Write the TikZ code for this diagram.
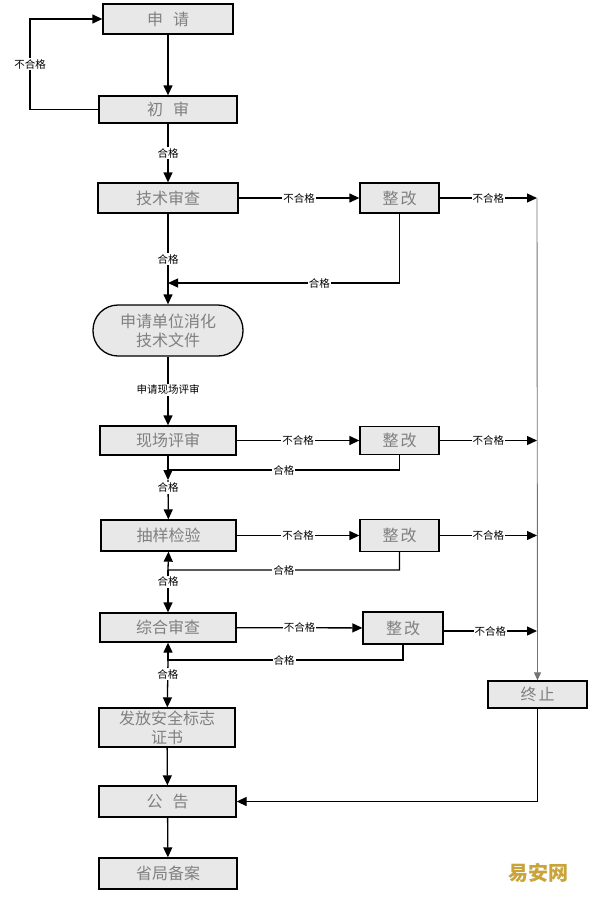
\documentclass[tikz,border=0pt]{standalone}
\usepackage{fontspec}
\setmainfont{Noto Sans CJK SC}
\usetikzlibrary{arrows.meta}
\definecolor{boxfill}{HTML}{E8E8E8}
\definecolor{boxtext}{HTML}{808080}
\definecolor{wmgold}{HTML}{C9A43A}
\begin{document}
\begin{tikzpicture}[x=1pt,y=-1pt,
  box/.style={draw=black,line width=1.3pt,fill=boxfill,text=boxtext,
    font=\fontsize{16}{19}\selectfont,inner sep=0pt,align=center},
  lab/.style={fill=white,inner sep=1pt,text=black,font=\fontsize{10.5}{12}\selectfont},
  conn/.style={line width=1.3pt,-{Triangle[length=10pt,width=9pt]}},
  plain/.style={line width=1.3pt},
  side/.style={line width=0.9pt,draw=black!55}]
\useasboundingbox (0,0) rectangle (590,906);
\fill[white] (0,0) rectangle (590,906);
% boxes
\node[box,minimum width=130pt,minimum height=30pt] (sq) at (168,19) {申\hspace{10pt}请};
\node[box,minimum width=138pt,minimum height=27pt] (cs) at (168,109.5) {初\hspace{10pt}审};
\node[box,minimum width=140pt,minimum height=30pt] (js) at (168,198) {技术审查};
\node[box,minimum width=79pt,minimum height=30pt] (zg1) at (399.5,198) {整\hspace{2pt}改};
\node[box,minimum width=150pt,minimum height=51pt,rounded corners=25pt] (xh) at (168,330.5) {申请单位消化\\技术文件};
\node[box,minimum width=136pt,minimum height=29pt] (xc) at (168,440.5) {现场评审};
\node[box,minimum width=79pt,minimum height=28pt] (zg2) at (399.5,440.5) {整\hspace{2pt}改};
\node[box,minimum width=135pt,minimum height=31pt] (cy) at (168.5,535.5) {抽样检验};
\node[box,minimum width=79pt,minimum height=32pt] (zg3) at (399.5,535.5) {整\hspace{2pt}改};
\node[box,minimum width=136pt,minimum height=29pt] (zh) at (168,627.5) {综合审查};
\node[box,minimum width=80pt,minimum height=32pt] (zg4) at (403,628) {整\hspace{2pt}改};
\node[box,minimum width=136pt,minimum height=39pt] (ff) at (167,727.5) {发放安全标志\\证书};
\node[box,minimum width=99pt,minimum height=27pt] (zz) at (537.5,694.5) {终\hspace{2pt}止};
\node[box,minimum width=137pt,minimum height=31pt] (gg) at (167.5,801.5) {公\hspace{10pt}告};
\node[box,minimum width=138pt,minimum height=31pt] (sj) at (168,873.5) {省局备案};
\node[text=wmgold,font=\bfseries\fontsize{20}{22}\selectfont] (wm) at (538,873) {易安网};
% coordinates
\coordinate (l1) at (30,109.5);
\coordinate (l2) at (30,19);
\coordinate (r1) at (537,198);
\coordinate (r2) at (537,440.5);
\coordinate (r3) at (537,535.5);
\coordinate (r4) at (537,631);
\coordinate (j1) at (168,283);
\coordinate (j2) at (168,470);
\coordinate (a2) at (168,480);
\coordinate (j3) at (168,570);
\coordinate (j4) at (168,660);
% connectors
\draw[conn] (sq) -- (cs);
\draw[conn] (cs.west) -- (l1) -- node[lab]{不合格} (l2) -- (sq.west);
\draw[conn] (cs) -- node[lab]{合格} (js);
\draw[conn] (js) -- node[lab]{不合格} (zg1);
\draw[conn] (zg1) -- node[lab]{不合格} (r1);
\draw[conn] (js) -- node[lab]{合格} (xh);
\draw[conn] (zg1.south) |- node[lab,pos=0.673]{合格} (j1);
\draw[conn] (xh) -- node[lab,pos=0.48]{申请现场评审} (xc);
% stage 2
\draw[conn] (xc) -- node[lab]{不合格} (zg2);
\draw[conn] (zg2) -- node[lab]{不合格} (r2);
\draw[plain] (zg2.south) |- node[lab,pos=0.75]{合格} (j2);
\draw[conn] (xc) -- (a2);
\draw[conn] (a2) -- node[lab,pos=0.2]{合格} (cy);
% stage 3
\draw[conn] (cy) -- node[lab]{不合格} (zg3);
\draw[conn] (zg3) -- node[lab]{不合格} (r3);
\draw[conn] (zg3.south) |- node[lab,pos=0.75]{合格} (j3) -- (cy.south);
\draw[conn] (j3) -- node[lab,pos=0.28]{合格} (zh);
% stage 4
\draw[conn] (zh) -- node[lab]{不合格} (zg4);
\draw[conn] (zg4.east |- r4) -- node[lab]{不合格} (r4);
\draw[conn] (zg4.south) |- node[lab,pos=0.753]{合格} (j4) -- (zh.south);
\draw[conn] (j4) -- node[lab,pos=0.3]{合格} (ff);
% end
\draw[side,-{Triangle[length=8pt,width=7pt]}] (r1) -- (zz.north);
\draw[conn] (ff) -- (gg);
\draw[conn] (gg) -- (sj);
\draw[conn] (zz.south) |- (gg.east);
\end{tikzpicture}
\end{document}
